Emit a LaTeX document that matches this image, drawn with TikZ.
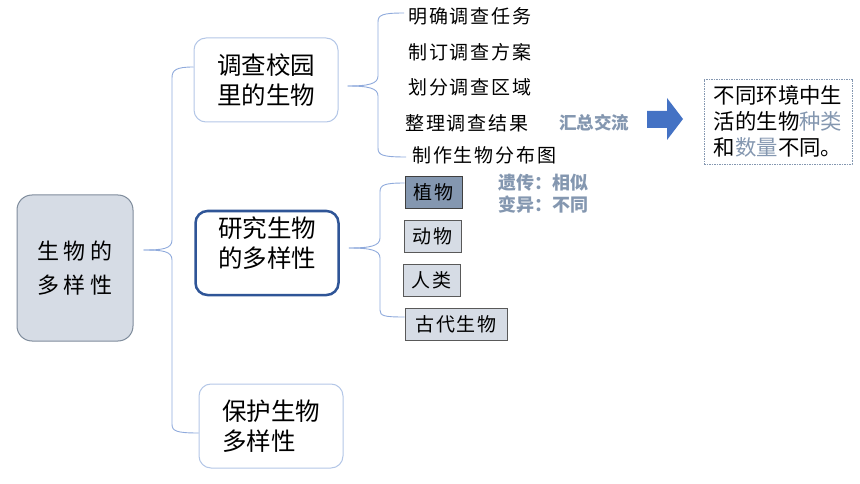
\documentclass[tikz,border=0pt]{standalone}
\usepackage{fontspec}
\usepackage{tikz}
\usetikzlibrary{calc}
\newfontfamily\cjk{Noto Sans CJK SC}
\newfontfamily\cjkwide{Noto Sans CJK SC}[LetterSpace=10]
\newfontfamily\cjkroot{Noto Sans CJK SC}[LetterSpace=22]
\definecolor{linkblue}{HTML}{8FAADC}
\definecolor{paleblue}{HTML}{B4C7E7}
\definecolor{darkblue}{HTML}{2F5597}
\definecolor{rootfill}{HTML}{D6DCE5}
\definecolor{rootline}{HTML}{7F8C9C}
\definecolor{slate}{HTML}{8497B0}
\definecolor{arrowblue}{HTML}{4472C4}

\begin{document}
\begin{tikzpicture}[x=1pt,y=-1pt,
 link/.style={draw=linkblue,line width=0.9pt},
 rootbox/.style={draw=rootline,line width=1pt,fill=rootfill,rounded corners=15pt,minimum width=116pt,minimum height=146pt,inner sep=0pt,align=center,font=\cjkroot\fontsize{22}{34}\selectfont},
 topic/.style={draw=paleblue,line width=1pt,fill=white,rounded corners=12pt,minimum width=144pt,minimum height=84pt,inner sep=0pt,font=\cjk\fontsize{24.5}{30}\selectfont},
 stepitem/.style={anchor=west,inner sep=0pt,font=\cjkwide\fontsize{19}{22}\selectfont},
 kind/.style={draw=black!65,line width=0.9pt,fill=rootfill,minimum height=32pt,inner sep=0pt,font=\cjkwide\fontsize{19}{22}\selectfont},
 note/.style={anchor=west,inner sep=0pt,text=slate,font=\cjk\bfseries\fontsize{17.5}{21}\selectfont}]
 \useasboundingbox (0,0) rectangle (860,484);
 \draw (75,268) node[rootbox] (root) {生物的\\多样性};
 \draw (266,80) node[topic,align=center] (b1) {调查校园\\里的生物};
 \draw (267,253) node[topic,align=center,draw=darkblue,line width=2.5pt,minimum width=143pt] (b2) {研究生物\\的多样性\\[-8pt]};
 \draw (271,426) node[topic,align=left] (b3) {保护生物\\多样性};
 \draw (408,16) node[stepitem] (t1) {明确调查任务};
 \draw (408,52) node[stepitem] (t2) {制订调查方案};
 \draw (408,87) node[stepitem] (t3) {划分调查区域};
 \draw (405,123) node[stepitem] (t4) {整理调查结果};
 \draw (412,155) node[stepitem] (t5) {制作生物分布图};
 \draw (559,123) node[note] (sum) {汇总交流};
 \fill[arrowblue] (647,111) -- (667,111) -- (667,98) -- (683,119) -- (667,140) -- (667,128) -- (647,128) -- cycle;
 \draw (778,121.5) node[draw=slate,line width=0.9pt,dash pattern=on 1.5pt off 1pt,minimum width=148pt,minimum height=85pt,inner sep=0pt,align=left,font=\cjk\fontsize{21.4}{26}\selectfont] (res) {不同环境中生\\活的生物{\color{slate}种类}\\和{\color{slate}数量}不同。};
 \draw (433.5,192) node[kind,fill=slate,draw=black!75,minimum width=57pt] (plant) {植物};
 \draw (432.5,236) node[kind,minimum width=57pt] (animal) {动物};
 \draw (431.5,280) node[kind,minimum width=57pt] (human) {人类};
 \draw (456,324) node[kind,minimum width=102pt] (fossil) {古代生物};
 \draw (498,183) node[note,font=\cjk\bfseries\fontsize{18}{21}\selectfont] (gene) {遗传：相似};
 \draw (498,205) node[note,font=\cjk\bfseries\fontsize{18}{21}\selectfont] (vary) {变异：不同};
 \coordinate (rtip) at ($(root.east)+(10,-18)$);
 \coordinate (b1tip) at ($(b1.east)+(9,6)$);
 \coordinate (b2tip) at ($(b2.east)+(9,-5)$);
 \draw[link] (rtip) .. controls (162,250) and (172,249) .. (172,240) -- (172,78) .. controls (172,70) and (176,67) .. ($(b1.west)+(0,-13)$);
 \draw[link] (rtip) .. controls (162,250) and (172,251) .. (172,260) -- (172,424) .. controls (172,431) and (176,433) .. ($(b3.west)+(0,7)$);
 \draw[link] (b1tip) .. controls (368,86) and (378,84) .. (378,76) -- (378,22) .. controls (378,15) and (382,13) .. ($(t1.west)+(-4,-3)$);
 \draw[link] (b1tip) .. controls (368,86) and (378,88) .. (378,96) -- (378,148) .. controls (378,155) and (382,157) .. ($(t5.west)+(-6,2)$);
 \draw[link] (b2tip) .. controls (370,248) and (380,246) .. (380,238) -- (380,192) .. controls (380,185) and (384,183) .. ($(plant.west)+(0,-9)$);
 \draw[link] (b2tip) .. controls (370,248) and (380,250) .. (380,258) -- (380,310) .. controls (380,316) and (384,317) .. ($(fossil.west)+(0,-7)$);
\end{tikzpicture}
\end{document}
